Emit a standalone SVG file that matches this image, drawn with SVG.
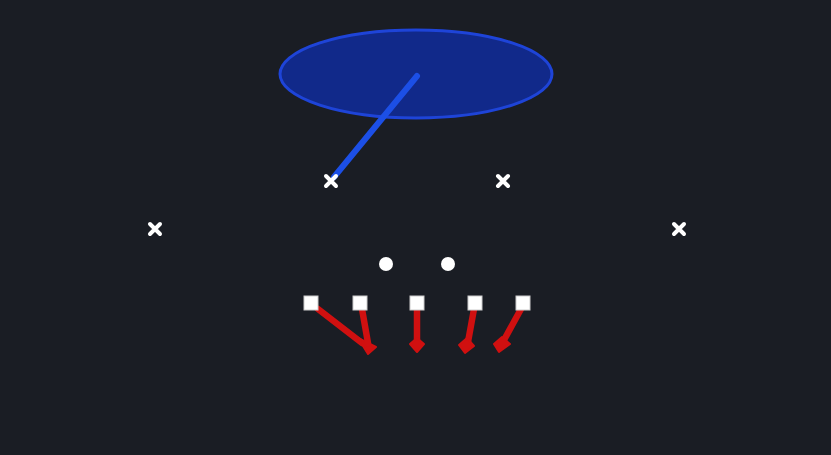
<svg xmlns="http://www.w3.org/2000/svg" width="831" height="455" viewBox="0 0 831 455">
<defs>
<style>
.x{stroke:#ffffff;stroke-width:4;stroke-linecap:round}
.sq{fill:#ffffff;stroke:#cccccc;stroke-width:1}
.dot{fill:#ffffff}
.red{stroke:#d01010;stroke-width:6.5;stroke-linecap:round;fill:none}
.head{fill:#d01010;stroke:#d01010;stroke-width:2;stroke-linejoin:round}
</style>
</defs>
<rect width="831" height="455" fill="#1a1d24"/>
<g id="zone">
<ellipse cx="416" cy="74" rx="136" ry="44" fill="#11298a" stroke="#1e44d8" stroke-width="3"/>
</g>
<g id="connectors">
<line x1="417" y1="76" x2="334" y2="177" stroke="#1c4fe6" stroke-width="6" stroke-linecap="round"/>
<line class="red" x1="318" y1="309" x2="362" y2="343"/>
<path class="head" d="M358 338 L376 347 L368 354 Z"/>
<line class="red" x1="362" y1="309" x2="368" y2="343"/>
<line class="red" x1="417" y1="309" x2="417" y2="342"/>
<path class="head" d="M410 344 L417 338 L424 344 L417 352 Z"/>
<line class="red" x1="474" y1="309" x2="468" y2="342"/>
<path class="head" d="M459 345 L467 338 L474 346 L465 353 Z"/>
<line class="red" x1="521" y1="309" x2="504" y2="340"/>
<path class="head" d="M494 344 L502 337 L510 344 L499 352 Z"/>
</g>
<g id="x1"><path class="x" d="M326 176 L336 186 M336 176 L326 186"/></g>
<g id="x2"><path class="x" d="M498 176 L508 186 M508 176 L498 186"/></g>
<g id="x3"><path class="x" d="M150 224 L160 234 M160 224 L150 234"/></g>
<g id="x4"><path class="x" d="M674 224 L684 234 M684 224 L674 234"/></g>
<g id="o1"><circle class="dot" cx="386" cy="264" r="7"/></g>
<g id="o2"><circle class="dot" cx="448" cy="264" r="7"/></g>
<g id="s1"><rect class="sq" x="304" y="296" width="14" height="14"/></g>
<g id="s2"><rect class="sq" x="353" y="296" width="14" height="14"/></g>
<g id="s3"><rect class="sq" x="410" y="296" width="14" height="14"/></g>
<g id="s4"><rect class="sq" x="468" y="296" width="14" height="14"/></g>
<g id="s5"><rect class="sq" x="516" y="296" width="14" height="14"/></g>
</svg>
